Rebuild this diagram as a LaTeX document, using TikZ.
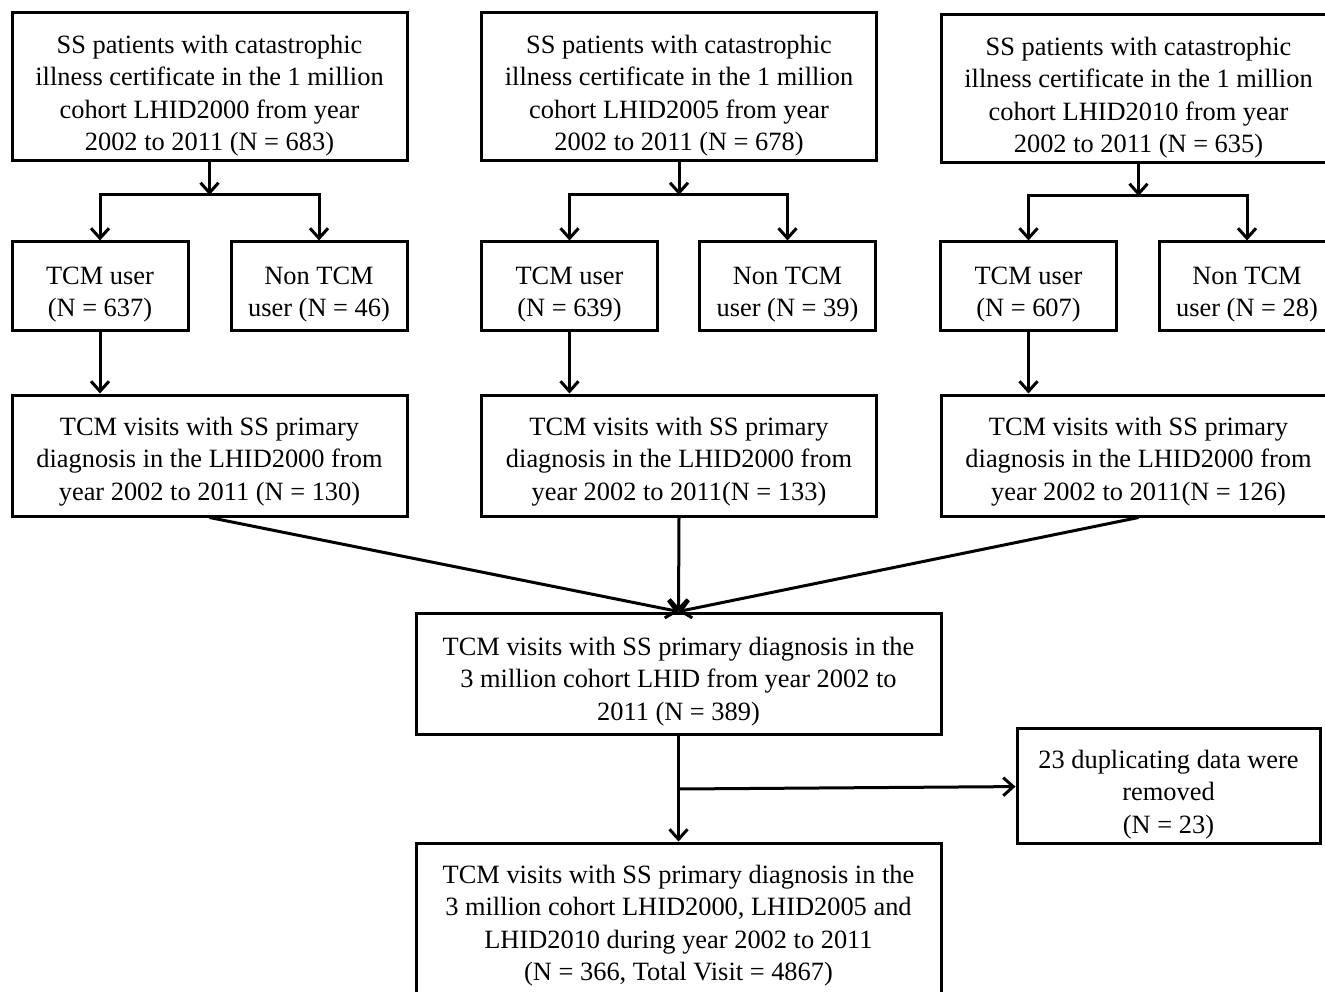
\documentclass[tikz,border=0pt]{standalone}
\usepackage{fontspec}
\setmainfont{Liberation Serif}
\usetikzlibrary{arrows.meta}

\begin{document}
\begin{tikzpicture}[x=1pt,y=-1pt,line width=3pt,
  box/.style={draw,rectangle,align=center,inner sep=0pt,font=\fontsize{26.4}{32.3}\selectfont,
    text depth=0pt},
  big/.style={box,minimum width=395pt,minimum height=148pt,text height=127pt},
  small/.style={box,minimum width=176pt,minimum height=88pt,text height=61pt},
  mid/.style={box,minimum width=395pt,minimum height=121pt,text height=89pt},
  arr/.style={-{Straight Barb[length=10pt,width=18pt]}}]
\useasboundingbox (0,0) rectangle (1325,992);
\clip (0,0) rectangle (1325,992);
\node[big] (a1) at (209.5, 87) {SS patients with catastrophic\\illness certificate in the 1 million\\cohort LHID2000 from year\\2002 to 2011 (N = 683)};
\node[big] (b1) at (679, 87) {SS patients with catastrophic\\illness certificate in the 1 million\\cohort LHID2005 from year\\2002 to 2011 (N = 678)};
\node[big] (c1) at (1138.5, 89) {SS patients with catastrophic\\illness certificate in the 1 million\\cohort LHID2010 from year\\2002 to 2011 (N = 635)};
\node[small] (ta) at (100, 286) {TCM user\\(N = 637)};
\node[small] (na) at (319, 286) {Non TCM\\user (N = 46)};
\node[small] (tb) at (569.5, 286) {TCM user\\(N = 639)};
\node[small] (nb) at (787.5, 286) {Non TCM\\user (N = 39)};
\node[small] (tc) at (1028.5, 286) {TCM user\\(N = 607)};
\node[small] (nc) at (1247, 286) {Non TCM\\user (N = 28)};
\node[mid] (va) at (209.5, 455.5) {TCM visits with SS primary\\diagnosis in the LHID2000 from\\year 2002 to 2011 (N = 130)};
\node[mid] (vb) at (679, 455.5) {TCM visits with SS primary\\diagnosis in the LHID2000 from\\year 2002 to 2011(N = 133)};
\node[mid] (vc) at (1138.5, 455.5) {TCM visits with SS primary\\diagnosis in the LHID2000 from\\year 2002 to 2011(N = 126)};
\node[box,minimum width=525pt,minimum height=121pt,text height=93pt] (all) at (678.5, 673.5) {TCM visits with SS primary diagnosis in the\\3 million cohort LHID from year 2002 to\\2011 (N = 389)};
\node[box,minimum width=303pt,minimum height=115pt,text height=95pt] (dup) at (1168.5, 785.5) {23 duplicating data were\\removed\\(N = 23)};
\node[box,minimum width=525pt,minimum height=152pt,text height=123pt] (fin) at (678.5, 919) {TCM visits with SS primary diagnosis in the\\3 million cohort LHID2000, LHID2005 and\\LHID2010 during year 2002 to 2011\\(N = 366, Total Visit = 4867)};
\coordinate (ja) at (209.5, 195);
\coordinate (jb) at (679, 195);
\coordinate (jc) at (1138.5, 196);
\coordinate (jd) at (679, 789);

\draw [arr] (a1) -- (ja);
\draw [arr] (ja) -| (ta);
\draw [arr] (ja) -| (na);
\draw [arr] (b1) -- (jb);
\draw [arr] (jb) -| (tb);
\draw [arr] (jb) -| (nb);
\draw [arr] (c1) -- (jc);
\draw [arr] (jc) -| (tc);
\draw [arr] (jc) -| (nc);
\draw [arr] (ta) -- (ta |- va.north);
\draw [arr] (tb) -- (tb |- vb.north);
\draw [arr] (tc) -- (tc |- vc.north);
\draw [arr] (va.south) -- (all.north);
\draw [arr] (vb.south) -- (all.north);
\draw [arr] (vc.south) -- (all.north);
\draw [arr] (all) -- (fin);
\draw [arr] (jd) -- (dup);
\end{tikzpicture}
\end{document}
